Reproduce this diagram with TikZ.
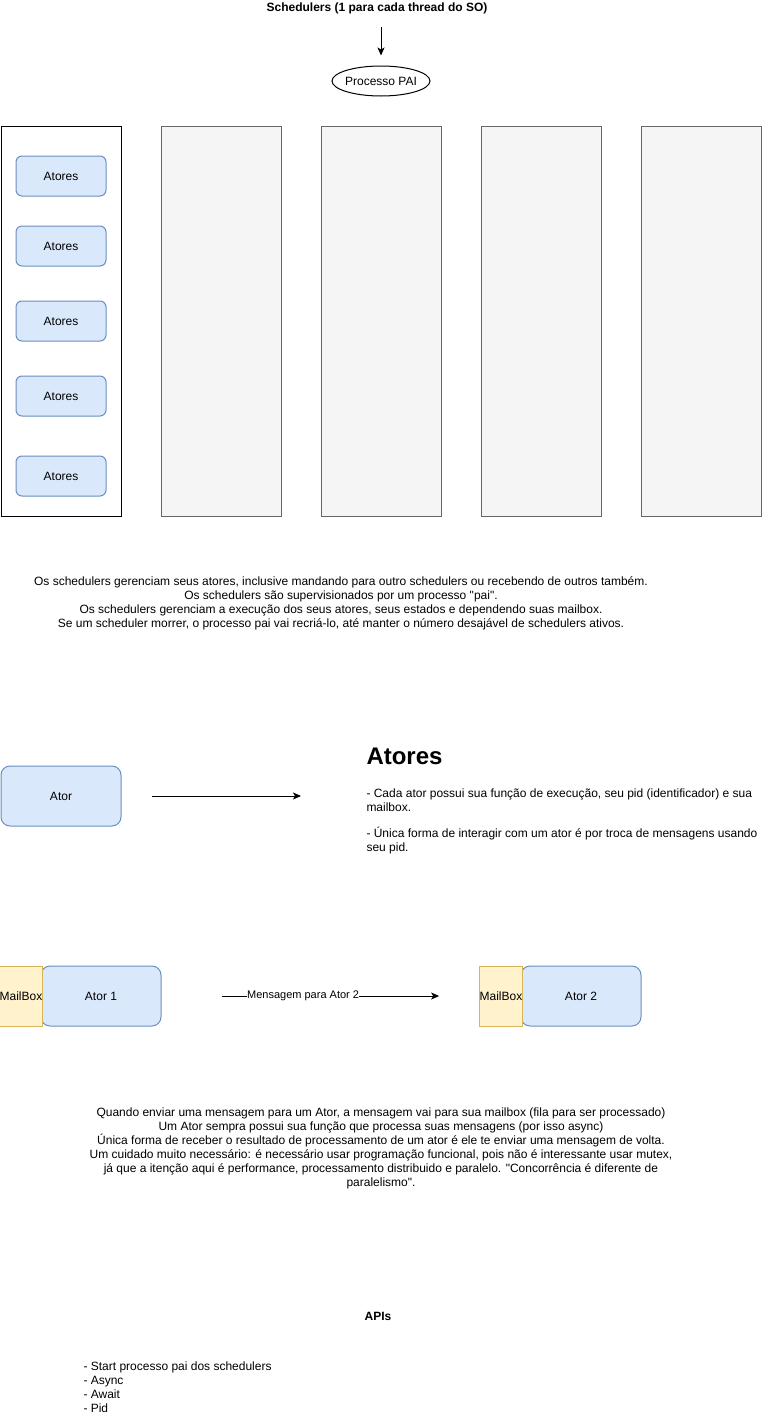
\documentclass[tikz,border=0pt]{standalone}
\usepackage{fontspec}
\setmainfont{Liberation Sans}
\usetikzlibrary{positioning,arrows.meta,shapes.geometric}

\definecolor{atorfill}{HTML}{DAE8FC}
\definecolor{atorline}{HTML}{6C8EBF}
\definecolor{mailfill}{HTML}{FFF2CC}
\definecolor{mailline}{HTML}{D6B656}
\definecolor{schedfill}{HTML}{F5F5F5}
\definecolor{schedline}{HTML}{666666}
\newcommand{\txt}{\fontsize{12}{14}\selectfont}
\newcommand{\smalltxt}{\fontsize{11}{13}\selectfont}

\begin{document}
\begin{tikzpicture}[x=1pt,y=-1pt,line width=1pt,
    every node/.style={font=\txt,inner sep=0pt},
    arr/.style={-{Stealth[length=8pt,width=7pt,inset=2pt]}},
    atores/.style={draw=atorline,fill=atorfill,rounded corners=6pt,
                   minimum width=90pt,minimum height=40pt},
    atorbox/.style={draw=atorline,fill=atorfill,rounded corners=9pt,
                    minimum width=120pt,minimum height=60pt},
    mailbox/.style={draw=mailline,fill=mailfill,
                    minimum width=40pt,minimum height=60pt},
    schedbox/.style={draw=schedline,fill=schedfill,
                     minimum width=120pt,minimum height=390pt}]

  \useasboundingbox (0,0) rectangle (782,1427);

  \node (title) [font=\txt\bfseries] at (377,8)
        {Schedulers (1 para cada thread do SO)};
  \node (pai) [ellipse,draw,inner xsep=-1.5pt,minimum width=98pt,
               minimum height=30pt] at (381,81) {Processo PAI};
  \coordinate (paiIn) at (381,27);
  \draw [arr] (paiIn) -- ([yshift=10pt]pai.north);

  % schedulers
  \node (sch1) [schedbox,draw=black,fill=white] at (61,321) {};
  \foreach \i/\x in {2/221,3/381,4/541,5/701}
    \node (sch\i) [schedbox] at (\x,321) {};

  \foreach \i/\y in {1/176,2/246,3/321,4/396,5/476}
    \node (at\i) [atores] at (61,\y) {Atores};

  \node (schText) [align=center] at (341,603)
        {Os schedulers gerenciam seus atores, inclusive mandando para outro
         schedulers ou recebendo de outros também.\\
         Os schedulers são supervisionados por um processo
         \textquotedbl pai\textquotedbl.\\
         Os schedulers gerenciam a execução dos seus atores, seus estados e
         dependendo suas mailbox.\\
         Se um scheduler morrer, o processo pai vai recriá-lo, até manter o
         número desajável de schedulers ativos.};

  % atores
  \node (ator) [atorbox] at (61,796) {Ator};
  \coordinate (atorOut) at (301,796);
  \draw [arr] ([xshift=30pt]ator.east) -- (atorOut);

  \node (atHead) [anchor=base west,font=\fontsize{24}{28}\selectfont\bfseries]
        at (366,764) {Atores};
  \node (atText) [anchor=west,align=left] at (366,821)
        {- Cada ator possui sua função de execução, seu pid (identificador) e sua\\
         mailbox.\\[12pt]
         - Única forma de interagir com um ator é por troca de mensagens usando\\
         seu pid.};

  % mensagens
  \node (ator1) [atorbox] at (101,996) {Ator 1};
  \node (mb1) [mailbox] at (21,996) {MailBox};
  \node (ator2) [atorbox] at (581,996) {Ator 2};
  \node (mb2) [mailbox] at (501,996) {MailBox};

  \draw [arr] ([xshift=60pt]ator1.east) --
        node [pos=0.375,fill=white,font=\smalltxt] {Mensagem para Ator 2}
        ([xshift=-40pt]mb2.west);

  \node (msgText) [align=center] at (381,1148)
        {Quando enviar uma mensagem para um Ator, a mensagem vai para sua
         mailbox (fila para ser processado)\\
         Um Ator sempra possui sua função que processa suas mensagens (por
         isso async)\\
         Única forma de receber o resultado de processamento de um ator é ele
         te enviar uma mensagem de volta.\\
         Um cuidado muito necessário: é necessário usar programação funcional,
         pois não é interessante usar mutex,\\
         já que a itenção aqui é performance, processamento distribuido e
         paralelo. \textquotedbl Concorrência é diferente de\\
         paralelismo\textquotedbl.};

  % apis
  \node (apis) [font=\txt\bfseries] at (378,1316) {APIs};
  \node (apiList) [anchor=west,align=left] at (83,1387)
        {- Start processo pai dos schedulers\\
         - Async\\
         - Await\\
         - Pid};

\end{tikzpicture}
\end{document}
